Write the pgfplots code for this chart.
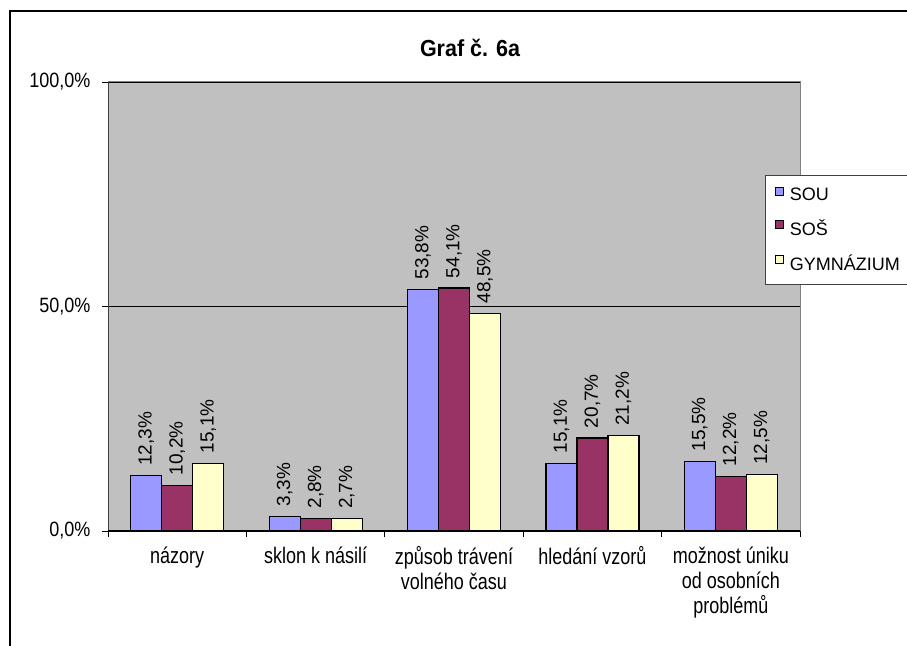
\documentclass[border=0pt]{standalone}
\usepackage{graphicx}
\usepackage{pgfplots}
\pgfplotsset{compat=1.18}
\usepackage{fontspec}
\setmainfont{Liberation Sans}
\definecolor{cSOU}{HTML}{9999FF}
\definecolor{cSOS}{HTML}{993366}
\definecolor{cGYM}{HTML}{FFFFCC}
\definecolor{plotbg}{HTML}{C0C0C0}
\newcommand\tall[1]{\scalebox{1}[1.25]{#1}}
\newcommand\ytall[1]{\scalebox{1}[1.15]{#1}}
\begin{document}
\begin{tikzpicture}[x=1bp,y=1bp]
\useasboundingbox (0,0) rectangle (907,646);
\draw[black, line width=1.2bp] (10,0) -- (10,635) -- (907,635);
\node[font=\bfseries\fontsize{21.5bp}{24bp}\selectfont] at (470,598) {\scalebox{1}[1.08]{Graf č. 6a}};
\begin{axis}[
 at={(108bp,115bp)}, anchor=south west,
 width=692bp, height=449bp, scale only axis,
 xmin=-0.5, xmax=4.5, ymin=0, ymax=100,
 axis background/.style={fill=plotbg},
 axis line style={draw=gray, line width=1bp},
 ybar=0pt, bar width=31bp,
 tick pos=left,
 ytick={0,50,100}, yticklabels={{\ytall{0,0\%}},{\ytall{50,0\%}},{\ytall{100,0\%}}},
 ymajorgrids, grid style={black, line width=0.8bp},
 tick align=outside, major tick length=6bp,
 tick style={black, line width=0.8bp},
 tick label style={font=\fontsize{18bp}{25bp}\selectfont},
 yticklabel style={xshift=-8bp},
 xtick={-0.5,0.5,1.5,2.5,3.5,4.5}, xticklabels={},
 extra x ticks={0,1,2,3,4},
 extra x tick labels={\tall{názory}, \tall{sklon k násilí}, {\tall{způsob trávení}\\\tall{volného času}}, \tall{hledání vzorů}, {\tall{možnost úniku}\\\tall{od osobních}\\\tall{problémů}}},
 extra x tick style={major tick length=0pt, xticklabel style={align=center, anchor=north, yshift=-12bp, font=\fontsize{18bp}{25bp}\selectfont}},
 nodes near coords={\fontsize{19bp}{22bp}\selectfont\pgfmathprintnumber[fixed,fixed zerofill,precision=1,use comma,assume math mode=true]{\pgfplotspointmeta}\%},
 every node near coord/.append style={rotate=90, anchor=west, inner sep=0pt, outer xsep=10bp, black},
 legend image code/.code={\draw[#1, draw=black, line width=0.8bp] (0bp,0bp) rectangle (8bp,8bp); \path[draw=none,fill=none,use as bounding box] (0bp,-1bp) rectangle (13bp,9bp);},
 legend style={at={(0.9494,0.792)}, anchor=north west, draw=darkgray, fill=white, line width=1bp,
   font=\fontsize{18bp}{22bp}\selectfont, row sep=14bp, inner xsep=10bp, inner ysep=10bp,
   nodes={inner xsep=1bp}},
 legend cell align=left,
]
\addplot[fill=cSOU, draw=black, line width=1.2bp] coordinates {(0,12.3) (1,3.3) (2,53.8) (3,15.1) (4,15.5)};
\addplot[fill=cSOS, draw=black, line width=1.2bp] coordinates {(0,10.2) (1,2.8) (2,54.1) (3,20.7) (4,12.2)};
\addplot[fill=cGYM, draw=black, line width=1.2bp] coordinates {(0,15.1) (1,2.7) (2,48.5) (3,21.2) (4,12.5)};
\legend{SOU, SOŠ, GYMNÁZIUM}
\draw[black!75, line width=1.2bp] (rel axis cs:0,1) -- (rel axis cs:0,0);
\draw[black, line width=1.2bp] (rel axis cs:0,0) -- (rel axis cs:1,0);
\end{axis}
\end{tikzpicture}
\end{document}
